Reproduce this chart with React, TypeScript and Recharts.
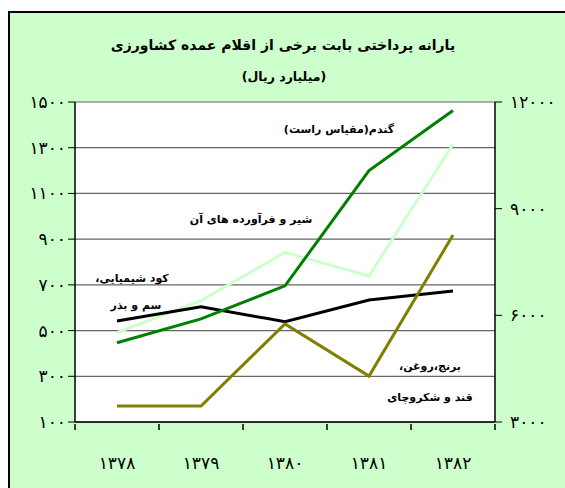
import React from 'react';
import { LineChart, Line, XAxis, YAxis, CartesianGrid } from 'recharts';

const years = [1378, 1379, 1380, 1381, 1382];
// wheat is drawn on the right-hand scale
const wheat = [5230, 5900, 6830, 10070, 11760];
const milk = [491, 631, 842, 739, 1315];
const chemicals = [542, 604, 539, 634, 673];
const rice = [170, 170, 529, 301, 918];

const leftTicks = [100, 300, 500, 700, 900, 1100, 1300, 1500];
const rightTicks = [3000, 6000, 9000, 12000];

const title = 'یارانه پرداختی بابت برخی از اقلام عمده کشاورزی';
const subtitle = '(میلیارد ریال)';

const data = years.map((year, i) => ({
    year,
    wheat: wheat[i],
    milk: milk[i],
    chemicals: chemicals[i],
    rice: rice[i],
}));

const xTicks = [...years.map(y => y - 0.5), years[years.length - 1] + 0.5, ...years].sort((a, b) => a - b);

const FONT = '"DejaVu Sans", sans-serif';
const fa = (n: number) => String(n).replace(/\d/g, d => '۰۱۲۳۴۵۶۷۸۹'[+d]);

function XTick(props: any) {
    const { x, y, payload } = props;
    const v = payload.value as number;
    if (!Number.isInteger(v)) {
        return <line x1={x} x2={x} y1={y} y2={y + 6} stroke="#000" strokeWidth={1.5} />;
    }
    return (
        <text x={x} y={y + 45} textAnchor="middle" fontSize={17} fontFamily={FONT} fill="#000">
            {fa(v)}
        </text>
    );
}

const labelStyle = (x: number, y: number, size = 11): React.CSSProperties => ({
    position: 'absolute',
    left: x - 10,
    top: y - 13,
    transform: 'translate(-50%, -50%)',
    whiteSpace: 'nowrap',
    direction: 'rtl',
    fontFamily: FONT,
    fontWeight: 'bold',
    fontSize: size,
    color: '#000',
});

const tickFont = { fontSize: 17, fontFamily: FONT, fill: '#000' };

export default function App() {
    return (
        <div style={{ position: 'fixed', left: 8, top: 11, width: 557, height: 477, overflow: 'hidden' }}>
            <div style={{ position: 'relative', width: 560, height: 480, background: '#CCFFCC', border: '2px solid #000' }}>
                <LineChart width={555} height={470} data={data} margin={{ top: 89, right: 0, bottom: 0, left: 0 }}>
                    <CartesianGrid vertical={false} fill="#fff" stroke="#666" strokeWidth={1.2} />
                    <XAxis dataKey="year" type="number" domain={[1377.5, 1382.5]} ticks={xTicks} interval={0}
                        tick={<XTick />} tickLine={false} tickSize={0} height={61}
                        axisLine={{ stroke: '#000', strokeWidth: 1.5 }} />
                    <YAxis type="number" domain={[100, 1500]} ticks={leftTicks} interval={0} width={65}
                        tickFormatter={fa} tickSize={7} tickMargin={2} tick={tickFont}
                        tickLine={{ stroke: '#000' }} axisLine={{ stroke: '#000', strokeWidth: 1.5 }} />
                    <YAxis yAxisId="right" orientation="right" type="number" domain={[3000, 12000]} ticks={rightTicks}
                        interval={0} width={70} tickFormatter={fa} tickSize={7} tickMargin={8} tick={tickFont}
                        tickLine={{ stroke: '#000' }} axisLine={{ stroke: '#000', strokeWidth: 1.5 }} />
                    <Line dataKey="milk" stroke="#CCFFCC" strokeWidth={3} dot={false} isAnimationActive={false} />
                    <Line dataKey="chemicals" stroke="#000" strokeWidth={3} dot={false} isAnimationActive={false} />
                    <Line dataKey="rice" stroke="#808000" strokeWidth={3} dot={false} isAnimationActive={false} />
                    <Line dataKey="wheat" yAxisId="right" stroke="#008000" strokeWidth={3} dot={false} isAnimationActive={false} />
                </LineChart>
                <div style={labelStyle(283, 45, 14)}>{title}</div>
                <div style={labelStyle(284, 76, 12.5)}>{subtitle}</div>
                <div style={labelStyle(339, 129)}>گندم(مقیاس راست)</div>
                <div style={labelStyle(251, 219)}>شیر و فرآورده های آن</div>
                <div style={labelStyle(132, 278)}>کود شیمیایی،</div>
                <div style={labelStyle(136, 305)}>سم و بذر</div>
                <div style={labelStyle(430, 366)}>برنج،روغن،</div>
                <div style={labelStyle(430, 397)}>قند و شکروچای</div>
            </div>
        </div>
    );
}
